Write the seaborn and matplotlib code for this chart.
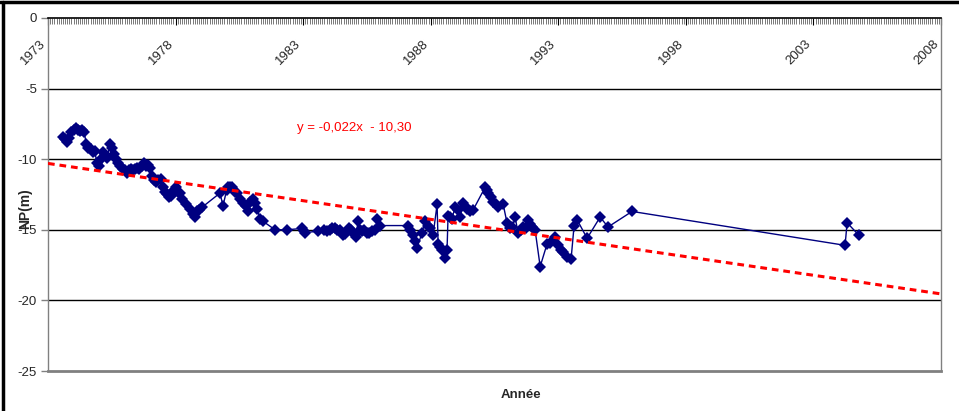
import matplotlib
matplotlib.use("Agg")
import matplotlib.pyplot as plt
from matplotlib.ticker import MultipleLocator, FixedLocator
from matplotlib.lines import Line2D
import seaborn as sns
import pandas as pd
import numpy as np

# ---------------- data ----------------
years = [1973.59, 1973.67, 1973.75, 1973.83, 1973.92, 1974.00, 1974.08, 1974.17, 1974.25, 1974.33,
         1974.42, 1974.50, 1974.58, 1974.67, 1974.75, 1974.83, 1974.92, 1975.00, 1975.08, 1975.17,
         1975.25, 1975.33, 1975.42, 1975.50, 1975.58, 1975.67, 1975.75, 1975.83, 1975.92, 1976.00,
         1976.08, 1976.17, 1976.25, 1976.33, 1976.42, 1976.50, 1976.58, 1976.67, 1976.75, 1976.83,
         1976.92, 1977.00, 1977.08, 1977.17, 1977.25, 1977.33, 1977.42, 1977.50, 1977.58, 1977.67,
         1977.75, 1977.83, 1977.92, 1978.00, 1978.08, 1978.17, 1978.25, 1978.42, 1978.57, 1978.67,
         1978.76, 1978.84, 1978.92, 1979.04,
         1979.74, 1979.86, 1980.00, 1980.06, 1980.14, 1980.21, 1980.33, 1980.41, 1980.53, 1980.64,
         1980.75, 1980.84, 1980.92, 1981.04, 1981.12, 1981.19, 1981.31, 1981.43, 1981.90, 1982.37,
         1982.96, 1983.03, 1983.07, 1983.58,
         1983.80, 1983.92, 1984.05, 1984.15, 1984.25, 1984.33, 1984.45, 1984.56, 1984.64, 1984.72,
         1984.80, 1984.88, 1984.96, 1985.07, 1985.15, 1985.23, 1985.31, 1985.40, 1985.50, 1985.58,
         1985.70, 1985.82, 1985.90, 1986.01, 1987.11, 1987.20, 1987.31, 1987.40, 1987.46, 1987.66,
         1987.78, 1987.88, 1987.97, 1988.09, 1988.25, 1988.29, 1988.37, 1988.45, 1988.56, 1988.64,
         1988.68, 1988.76, 1988.84, 1988.95, 1989.07, 1989.15, 1989.27, 1989.35, 1989.42, 1989.54,
         1989.66, 1990.13, 1990.20, 1990.25, 1990.35, 1990.44, 1990.55, 1990.64, 1990.84, 1990.99,
         1991.11, 1991.20, 1991.31, 1991.42, 1991.52, 1991.62, 1991.72, 1991.82, 1991.90, 1991.97,
         1992.09, 1992.29, 1992.56, 1992.68, 1992.87, 1992.99, 1993.10, 1993.19, 1993.35, 1993.50,
         1993.62, 1993.74, 1994.13, 1994.64, 1994.95, 1995.89, 2004.24, 2004.32, 2004.79]

np_m = [-8.4, -8.6, -8.8, -8.5, -8.1, -7.9, -7.8, -7.9, -8.0, -7.9,
        -8.1, -8.9, -9.2, -9.3, -9.5, -9.4, -10.3, -10.5, -10.0, -9.5,
        -9.7, -9.9, -8.9, -9.2, -9.6, -10.0, -10.3, -10.5, -10.7, -10.8,
        -11.0, -10.8, -10.7, -10.8, -10.7, -10.6, -10.7, -10.5, -10.3, -10.5,
        -10.4, -10.6, -11.2, -11.5, -11.6, -11.5, -11.4, -12.0, -12.3, -12.5,
        -12.7, -12.6, -12.2, -12.0, -12.3, -12.4, -12.8, -13.2, -13.5, -13.9,
        -14.1, -13.7, -13.6, -13.4,
        -12.4, -13.3, -12.2, -12.0, -12.0, -12.0, -12.3, -12.4, -12.8, -13.1,
        -13.3, -13.7, -13.0, -12.8, -13.1, -13.5, -14.2, -14.4, -15.0, -15.0,
        -14.9, -15.1, -15.2, -15.1,
        -15.0, -15.1, -15.0, -14.9, -14.9, -15.0, -15.0, -15.4, -15.3, -15.1,
        -14.9, -15.0, -15.2, -15.5, -14.4, -15.0, -15.1, -15.0, -15.2, -15.2,
        -15.1, -15.0, -14.2, -14.7, -14.7, -15.0, -15.4, -15.8, -16.3, -15.2,
        -14.4, -14.7, -14.9, -15.4, -13.2, -16.0, -16.2, -16.4, -17.0, -16.4,
        -14.0, -14.1, -14.2, -13.4, -13.6, -14.1, -13.1, -13.3, -13.5, -13.7,
        -13.6, -12.0, -12.2, -12.4, -12.7, -13.0, -13.2, -13.4, -13.2, -14.5,
        -14.9, -14.8, -14.1, -15.2, -15.0, -14.8, -14.9, -14.3, -14.6, -14.8,
        -15.0, -17.6, -16.0, -15.9, -15.5, -16.1, -16.4, -16.6, -16.9, -17.1,
        -14.7, -14.3, -15.6, -14.1, -14.8, -13.7, -16.1, -14.5, -15.4]

# trend line y = -0,022x - 10,30 (x in months since 1973)
trend_slope = -0.022
trend_intercept = -10.30
trend_years = [1973, 2008]
trend_label = "y = -0,022x  - 10,30"

x_ticks = [1973, 1978, 1983, 1988, 1993, 1998, 2003, 2008]
y_ticks = [-25, -20, -15, -10, -5, 0]

# ---------------- style ----------------
sns.set_style("white")
plt.rcParams['font.family'] = ['Liberation Sans', 'DejaVu Sans']
plt.rcParams['axes.unicode_minus'] = False

fig = plt.figure(figsize=(9.59, 4.11), dpi=100)
ax = fig.add_axes([48 / 959, 40 / 411, 893 / 959, 353 / 411])

df = pd.DataFrame({"Année": years, "NP(m)": np_m})
sns.lineplot(data=df, x="Année", y="NP(m)", ax=ax, sort=False, color="#000080",
             linewidth=1.0, marker="D", markersize=6.2, markeredgewidth=0,
             markerfacecolor="#000080", zorder=3)

tx = np.array(trend_years, dtype=float)
ty = trend_slope * (tx - trend_years[0]) * 12 + trend_intercept
ax.plot(tx, ty, color="#FF0000", linestyle=(0, (2.2, 1.6)), linewidth=2.2, zorder=4)

ax.text(1985.0, -7.8, trend_label, color="#FF0000", fontsize=9.5, ha="center", va="center")

ax.set_xlim(1973, 2008)
ax.set_ylim(-25, 0)

# gridlines
for yv in y_ticks[1:-1]:
    ax.axhline(yv, color="black", linewidth=1.0, zorder=1)

# y axis
ax.yaxis.set_major_locator(FixedLocator(y_ticks))
ax.set_yticklabels([str(v) for v in y_ticks])
ax.tick_params(axis="y", which="major", direction="out", length=5, width=1,
               color="#808080", labelsize=9.5, pad=3, left=True)

# x axis on top, labels inside
ax.xaxis.set_ticks_position("top")
ax.xaxis.set_major_locator(FixedLocator(x_ticks))
ax.xaxis.set_minor_locator(MultipleLocator(1 / 12))
ax.set_xticklabels([str(v) for v in x_ticks])
ax.tick_params(axis="x", which="major", direction="in", length=5, width=0.8,
               color="black", labelsize=9.5, pad=-14, labeltop=True, labelbottom=False,
               top=True, bottom=False)
ax.tick_params(axis="x", which="minor", direction="in", length=4, width=0.5,
               color="#444444", top=True, bottom=False)
for lab in ax.get_xticklabels():
    lab.set_rotation(45)
    lab.set_ha("right")
    lab.set_va("top")

for side in ["left", "right"]:
    ax.spines[side].set_color("#808080")
    ax.spines[side].set_linewidth(1.0)
ax.spines["bottom"].set_color("#808080")
ax.spines["bottom"].set_linewidth(2.0)
ax.spines["top"].set_color("black")
ax.spines["top"].set_linewidth(1.2)

ax.set_xlabel("Année", fontsize=9.5, fontweight="bold")
ax.xaxis.set_label_coords((521 - 48) / 893, -0.05)
ax.set_ylabel("NP(m)", fontsize=10, fontweight="bold")
ax.yaxis.set_label_coords(-0.018, 0.46)

# outer chart frame (left and top visible)
fig.add_artist(Line2D([2.5 / 959, 2.5 / 959], [0, 1 - 2.5 / 411], color="black", linewidth=2.5,
                      transform=fig.transFigure))
fig.add_artist(Line2D([0, 1], [1 - 2.5 / 411, 1 - 2.5 / 411], color="black", linewidth=2.5,
                      transform=fig.transFigure))

fig.savefig("out.png", dpi=100)
